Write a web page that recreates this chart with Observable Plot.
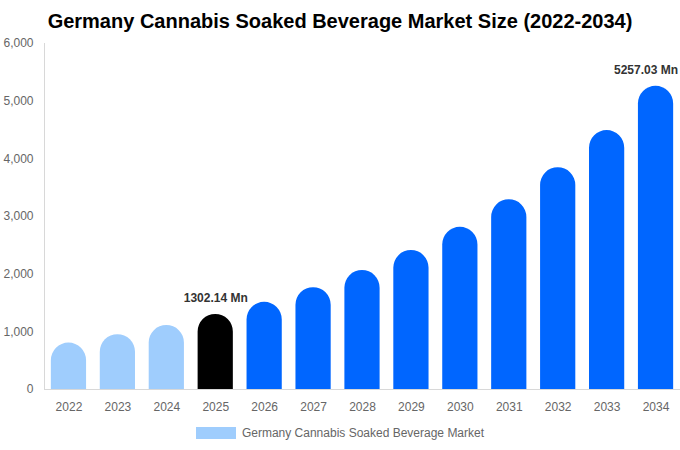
<!DOCTYPE html>
<html>
<head>
<meta charset="utf-8">
<script src="https://cdn.jsdelivr.net/npm/d3@7"></script>
<script src="https://cdn.jsdelivr.net/npm/@observablehq/plot@0.6"></script>
<style>
  html, body { margin: 0; padding: 0; background: #fff; }
  #wrap { width: 680px; height: 450px; overflow: hidden; position: relative; font-family: "Liberation Sans", Arial, sans-serif; }
  #title { height: 36px; line-height: 42px; text-align: center; font-weight: bold; font-size: 20px; color: #000; white-space: nowrap; }
  #legend { display: flex; align-items: center; justify-content: center; gap: 6px; font-size: 12px; color: #666; margin-top: 5px; padding-left: 0px; }
  #legend .sw { width: 40px; height: 12px; background: #9fcdfd; display: inline-block; }
</style>
</head>
<body>
<div id="wrap">
  <div id="title">Germany Cannabis Soaked Beverage Market Size (2022-2034)</div>
  <div id="chart"></div>
  <div id="legend"><span class="sw"></span><span>Germany Cannabis Soaked Beverage Market</span></div>
</div>
<script>
const years = ["2022","2023","2024","2025","2026","2027","2028","2029","2030","2031","2032","2033","2034"];
const values = [805, 950, 1110, 1302.14, 1512, 1765, 2063, 2410, 2812, 3290, 3845, 4490, 5257.03];
const barColors = ["#9fcdfd","#9fcdfd","#9fcdfd","#000000","#0066ff","#0066ff","#0066ff","#0066ff","#0066ff","#0066ff","#0066ff","#0066ff","#0066ff"];
const yTicks = [0, 1000, 2000, 3000, 4000, 5000, 6000];
const labelYears = ["2025", "2034"];
const seriesName = "Germany Cannabis Soaked Beverage Market";

const data = years.map((y, i) => ({year: y, value: values[i], color: barColors[i]}));
const midLabel = data.filter(d => d.year === labelYears[0]);
const endLabel = data.filter(d => d.year === labelYears[1]);
const fmt = d => d3.format(".2f")(d.value) + " Mn";

const chart = Plot.plot({
  width: 680,
  height: 385,
  marginTop: 7,
  marginBottom: 32,
  marginLeft: 44,
  marginRight: 0,
  style: {fontFamily: "'Liberation Sans', Arial, sans-serif", fontSize: "12px", color: "#666", overflow: "visible"},
  x: {domain: years, paddingInner: 0.28, paddingOuter: 0.14, round: false, label: null, tickSize: 0, tickPadding: 13},
  y: {domain: [0, 6000], ticks: yTicks, tickFormat: d3.format(","), label: null, tickSize: 0, tickPadding: 11},
  marks: [
    Plot.barY(data, {x: "year", y: "value", fill: "color", ry1: 17.6}),
    Plot.frame({anchor: "left", stroke: "#d8d8d8"}),
    Plot.ruleY([0], {stroke: "#d8d8d8"}),
    Plot.text(midLabel, {x: "year", y: "value", text: fmt, dy: -16, fontWeight: "bold", fontSize: 12, fill: "#333"}),
    Plot.text(endLabel, {x: "year", y: "value", text: fmt, dy: -16, dx: -10, fontWeight: "bold", fontSize: 12, fill: "#333"})
  ]
});
document.getElementById("chart").appendChild(chart);
</script>
</body>
</html>
